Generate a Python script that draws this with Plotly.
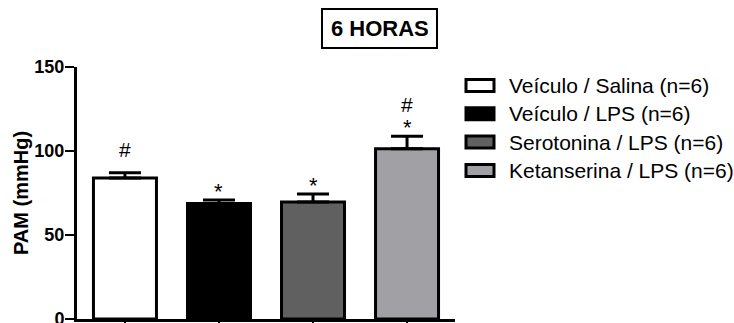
import plotly.graph_objects as go

# Mean arterial pressure at 6 h, per treatment group
groups = ["Veículo / Salina (n=6)", "Veículo / LPS (n=6)",
          "Serotonina / LPS (n=6)", "Ketanserina / LPS (n=6)"]
pam_mean = [84.0, 68.8, 69.6, 101.3]
pam_sem = [3.0, 2.0, 4.8, 7.5]
star_mark = [False, True, True, True]   # * vs Veículo / Salina
hash_mark = [True, False, False, True]  # # vs Veículo / LPS
fills = ["#ffffff", "#000000", "#606060", "#a1a1a5"]

FONT = "Liberation Sans, Arial, sans-serif"
W, H = 734, 323
ML, MR, MT, MB = 77, 279, 67, 4
PW, PH = W - ML - MR, H - MT - MB


def px_x(p):
    return (p - ML) / PW


def px_y(p):
    return (H - MB - p) / PH


xs = list(range(len(groups)))

fig = go.Figure()
fig.add_trace(go.Bar(
    x=xs, y=pam_mean, width=0.67,
    marker=dict(color=fills, line=dict(color="black", width=3)),
    error_y=dict(type="data", symmetric=False, array=pam_sem,
                 arrayminus=[0] * len(pam_sem),
                 color="black", thickness=3, width=16),
    showlegend=False,
))

# significance symbols above each error bar
annotations = []
for i, (m, s) in enumerate(zip(pam_mean, pam_sem)):
    top = m + s
    if star_mark[i]:
        annotations.append(dict(x=i, y=top, xref="x", yref="y", text="*",
                                showarrow=False, yanchor="bottom", yshift=-6,
                                font=dict(family=FONT, size=22, color="black")))
    if hash_mark[i]:
        annotations.append(dict(x=i, y=top, xref="x", yref="y", text="#",
                                showarrow=False, yanchor="bottom",
                                yshift=18 if star_mark[i] else 10,
                                font=dict(family=FONT, size=21, color="black")))

# boxed title
shapes = [dict(type="rect", xref="paper", yref="paper",
               x0=px_x(322), x1=px_x(437), y0=px_y(48), y1=px_y(9),
               line=dict(color="black", width=2), fillcolor="rgba(0,0,0,0)")]
annotations.append(dict(x=px_x(379.5), y=px_y(28.5), xref="paper", yref="paper",
                        text="6 HORAS", showarrow=False,
                        xanchor="center", yanchor="middle",
                        font=dict(family=FONT, size=22, color="black", weight="bold")))

# legend drawn as outlined swatches with labels
row_y = [85.5, 113.8, 142.1, 170.4]
for i, name in enumerate(groups):
    cy = row_y[i]
    shapes.append(dict(type="rect", xref="paper", yref="paper",
                       x0=px_x(466), x1=px_x(494),
                       y0=px_y(cy + 6), y1=px_y(cy - 6),
                       line=dict(color="black", width=3), fillcolor=fills[i]))
    annotations.append(dict(x=px_x(507), y=px_y(cy), xref="paper", yref="paper",
                            text=name, showarrow=False,
                            xanchor="left", yanchor="middle",
                            font=dict(family=FONT, size=21, color="black")))

fig.update_layout(
    width=W, height=H,
    margin=dict(l=ML, r=MR, t=MT, b=MB, pad=0),
    paper_bgcolor="white", plot_bgcolor="white",
    annotations=annotations, shapes=shapes,
    xaxis=dict(range=[-0.51, 3.51], tickvals=xs, showticklabels=False,
               ticks="outside", ticklen=6, tickwidth=2, tickcolor="black",
               showline=True, linecolor="black", linewidth=3,
               showgrid=False, zeroline=False, fixedrange=True, automargin=False),
    yaxis=dict(range=[0, 150], tickvals=[0, 50, 100, 150],
               ticks="outside", ticklen=9, tickwidth=2, tickcolor="black",
               showline=True, linecolor="black", linewidth=3,
               showgrid=False, zeroline=False, automargin=False,
               ticklabelstandoff=-3, ticklabeloverflow="allow",
               tickfont=dict(family=FONT, size=18, color="black", weight="bold"),
               title=dict(text="PAM (mmHg)", standoff=1,
                          font=dict(family=FONT, size=20, color="black", weight="bold"))),
    bargap=0.3,
)

fig.write_html("out.html")
